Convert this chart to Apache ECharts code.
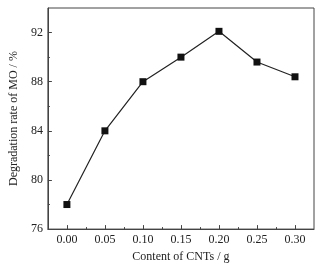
<!DOCTYPE html>
<html>
<head>
<meta charset="utf-8">
<script src="https://cdn.jsdelivr.net/npm/echarts@6/dist/echarts.min.js"></script>
<style>
html, body { margin: 0; padding: 0; background: #fff; }
#chart { width: 328px; height: 268px; }
</style>
</head>
<body>
<div id="chart"></div>
<script>
// CNT content (g) vs degradation rate of MO (%)
const cntContent = [0.00, 0.05, 0.10, 0.15, 0.20, 0.25, 0.30];
const degradation = [78.0, 84.0, 88.0, 90.0, 92.1, 89.6, 88.4];
const xMajorTicks = [0.00, 0.05, 0.10, 0.15, 0.20, 0.25, 0.30];
const xMinorTicks = [0.025, 0.075, 0.125, 0.175, 0.225, 0.275];
const yMajorTicks = [76, 80, 84, 88, 92];
const yMinorTicks = [78, 82, 86, 90];

const font = 'Liberation Serif';
const axisColor = '#444';

const chart = echarts.init(document.getElementById('chart'));
chart.setOption({
    animation: false,
    grid: {
        left: 37, right: 14, top: 8, bottom: 35,
        show: true, borderColor: axisColor, borderWidth: 1
    },
    xAxis: [
        {
            type: 'value', min: -0.025, max: 0.325,
            name: 'Content of CNTs / g',
            nameLocation: 'middle', nameGap: 21,
            nameTextStyle: { fontFamily: font, fontSize: 12, color: '#222' },
            axisLine: { onZero: false, lineStyle: { color: axisColor } },
            axisTick: { inside: true, length: 4, customValues: xMajorTicks, lineStyle: { color: axisColor } },
            axisLabel: {
                customValues: xMajorTicks, margin: 5,
                fontFamily: font, fontSize: 12, color: '#222',
                formatter: v => v.toFixed(2)
            },
            splitLine: { show: false }
        },
        {
            type: 'value', min: -0.025, max: 0.325, position: 'bottom',
            axisLine: { show: false, onZero: false },
            axisTick: { inside: true, length: 2, customValues: xMinorTicks, lineStyle: { color: axisColor } },
            axisLabel: { show: false },
            splitLine: { show: false }
        }
    ],
    yAxis: [
        {
            type: 'value', min: 76, max: 94,
            name: 'Degradation rate of MO / %',
            nameLocation: 'middle', nameGap: 23,
            nameTextStyle: { fontFamily: font, fontSize: 12, color: '#222' },
            axisLine: { show: true, onZero: false, lineStyle: { color: axisColor } },
            axisTick: { show: true, inside: true, length: 4, customValues: yMajorTicks, lineStyle: { color: axisColor } },
            axisLabel: { customValues: yMajorTicks, margin: 5, fontFamily: font, fontSize: 12, color: '#222' },
            splitLine: { show: false }
        },
        {
            type: 'value', min: 76, max: 94, position: 'left',
            axisLine: { show: false, onZero: false },
            axisTick: { show: true, inside: true, length: 2, customValues: yMinorTicks, lineStyle: { color: axisColor } },
            axisLabel: { show: false },
            splitLine: { show: false }
        }
    ],
    series: [
        {
            type: 'line',
            data: cntContent.map((c, i) => [c, degradation[i]]),
            symbol: 'rect', symbolSize: 7,
            lineStyle: { color: '#222', width: 1.2 },
            itemStyle: { color: '#111' }
        }
    ]
});
</script>
</body>
</html>
